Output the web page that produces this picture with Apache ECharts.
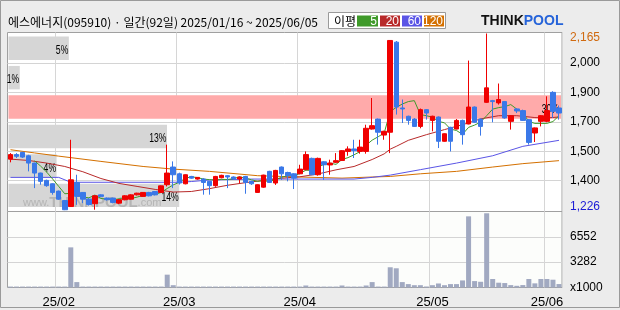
<!DOCTYPE html>
<html><head><meta charset="utf-8">
<script src="https://cdn.jsdelivr.net/npm/echarts@6/dist/echarts.min.js"></script>
<style>html,body{margin:0;padding:0;background:#ececec}#c{width:620px;height:310px}</style>
</head><body><div id="c"></div>
<script>
// ---------- data ----------
const dates = [
 '2025-01-16','2025-01-17','2025-01-20','2025-01-21','2025-01-22','2025-01-23','2025-01-24','2025-01-31',
 '2025-02-03','2025-02-04','2025-02-05','2025-02-06','2025-02-07','2025-02-10','2025-02-11','2025-02-12','2025-02-13','2025-02-14',
 '2025-02-17','2025-02-18','2025-02-19','2025-02-20','2025-02-21','2025-02-24','2025-02-25','2025-02-26','2025-02-27','2025-02-28',
 '2025-03-04','2025-03-05','2025-03-06','2025-03-07','2025-03-10','2025-03-11','2025-03-12','2025-03-13','2025-03-14',
 '2025-03-17','2025-03-18','2025-03-19','2025-03-20','2025-03-21','2025-03-24','2025-03-25','2025-03-26','2025-03-27','2025-03-28','2025-03-31',
 '2025-04-01','2025-04-02','2025-04-03','2025-04-04','2025-04-07','2025-04-08','2025-04-09','2025-04-10','2025-04-11',
 '2025-04-14','2025-04-15','2025-04-16','2025-04-17','2025-04-18','2025-04-21','2025-04-22','2025-04-23','2025-04-24','2025-04-25',
 '2025-04-28','2025-04-29','2025-04-30',
 '2025-05-02','2025-05-07','2025-05-08','2025-05-09','2025-05-12','2025-05-13','2025-05-14','2025-05-15','2025-05-16',
 '2025-05-19','2025-05-20','2025-05-21','2025-05-22','2025-05-23','2025-05-26','2025-05-27','2025-05-28','2025-05-29','2025-05-30',
 '2025-06-02','2025-06-04','2025-06-05'
];
const opens  = [1497,1521,1533,1515,1476,1423,1384,1366,1327,1277,1245,1373,1320,1284,1260,1307,1290,1290,1263,1281,1284,1307,1299,1320,1325,1320,1361,1455,1419,1366,1405,1391,1391,1379,1356,1398,1409,1402,1391,1405,1379,1320,1348,1432,1370,1455,1426,1419,1419,1441,1501,1414,1483,1466,1480,1490,1538,1551,1538,1538,1657,1710,1625,1640,2119,1769,1725,1710,1671,1760,1703,1721,1592,1666,1657,1703,1684,1774,1710,1799,1808,1796,1803,1698,1764,1755,1707,1636,1698,1698,1852,1769];
const closes = [1521,1512,1508,1476,1423,1379,1356,1320,1284,1228,1387,1299,1284,1256,1302,1299,1281,1267,1281,1302,1307,1316,1320,1302,1307,1355,1423,1414,1370,1414,1396,1400,1373,1356,1405,1411,1402,1393,1402,1373,1366,1361,1412,1373,1437,1419,1409,1396,1444,1521,1414,1501,1467,1476,1489,1542,1551,1542,1561,1661,1675,1640,1645,2128,1774,1764,1703,1671,1760,1742,1725,1592,1632,1592,1703,1627,1774,1693,1671,1876,1803,1814,1716,1728,1753,1703,1586,1663,1728,1755,1751,1742];
const lows   = [1480,1503,1503,1432,1343,1361,1350,1308,1280,1226,1243,1254,1263,1250,1228,1296,1277,1262,1258,1278,1282,1304,1296,1299,1304,1318,1352,1343,1362,1363,1393,1388,1308,1308,1350,1395,1343,1388,1370,1313,1360,1318,1345,1370,1360,1387,1379,1338,1416,1438,1412,1409,1387,1414,1476,1487,1515,1503,1526,1526,1654,1574,1600,1529,1734,1689,1680,1668,1661,1707,1645,1556,1590,1538,1655,1574,1682,1690,1622,1796,1693,1787,1712,1654,1742,1700,1574,1588,1671,1693,1716,1707];
const highs  = [1529,1529,1536,1520,1478,1425,1388,1368,1330,1280,1600,1414,1322,1290,1305,1310,1293,1292,1284,1305,1310,1318,1322,1323,1327,1357,1574,1485,1425,1416,1408,1402,1396,1381,1408,1414,1412,1405,1405,1408,1382,1363,1414,1435,1440,1458,1430,1422,1467,1538,1505,1505,1486,1494,1529,1545,1565,1600,1600,1680,1822,1713,1648,2130,2125,1814,1728,1715,1766,1763,1728,1724,1634,1669,1710,1707,2021,1777,1713,2165,1812,1899,1806,1731,1767,1760,1710,1665,1731,1831,1858,1782];
const volumes = [120,120,120,120,120,120,120,120,120,120,5190,700,120,120,120,120,120,120,120,120,120,120,120,120,120,120,1660,300,120,120,120,120,120,120,120,120,120,120,120,120,120,120,120,120,120,120,120,120,120,260,120,120,120,120,120,260,120,120,120,260,700,120,120,2616,2485,700,440,300,300,130,300,520,300,440,440,915,9200,830,740,9600,1100,620,575,310,220,314,1100,536,1100,1100,1007,445];

// moving averages
const ma5Start = 4;
const ma5 = [1488,1460,1428,1391,1352,1313,1315,1304,1296,1291,1306,1288,1284,1281,1286,1286,1288,1295,1305,1309,1310,1320,1341,1360,1374,1395,1403,1399,1391,1388,1386,1389,1389,1393,1403,1396,1387,1379,1383,1377,1390,1400,1410,1407,1421,1438,1437,1455,1469,1476,1469,1495,1505,1520,1537,1571,1598,1616,1636,1750,1772,1790,1803,1808,1734,1728,1720,1698,1690,1657,1649,1629,1666,1678,1694,1728,1763,1771,1776,1787,1763,1743,1697,1687,1687,1687,1697,1728];
const ma20Idx = [0,3,6,9,12,15,18,21,24,27,30,33,36,39,42,45,48,51,54,57,60,62,63,64,66,69,72,75,78,81,84,87,89,91];
const ma20Val = [1497,1490,1476,1458,1430,1394,1368,1352,1336,1322,1325,1340,1358,1372,1384,1396,1403,1418,1440,1458,1495,1525,1550,1565,1597,1627,1654,1680,1711,1728,1728,1718,1716,1721];
const ma60Idx = [0,8,10,28,30,33,40,57,60,63,68,74,80,85,91];
const ma60Val = [1400,1400,1374,1374,1378,1386,1391,1391,1400,1412,1441,1476,1515,1565,1597];
const ma120Idx = [0,4,8,15,22,27,33,41,48,55,60,63,68,74,80,85,91];
const ma120Val = [1547,1530,1513,1485,1458,1444,1432,1409,1402,1396,1402,1405,1419,1432,1455,1473,1489];
const maPeriods = ['5','20','60','120'];
const maColors = ['#3f9a2a','#b82a2a','#5a55e6','#d47000'];

// price-volume profile bands
const bandHigh = [2165,2008.5,1852,1695.5,1539,1382.5];
const bandLow  = [2008.5,1852,1695.5,1539,1382.5,1226];
const bandPct  = [5,1,30,13,4,14];
const currentBand = 2;

// axis tick labels
const priceTickVals = [2165,2008.5,1852,1695.5,1539,1382.5,1226];
const priceTickText = ['2,165','2,000','1,900','1,700','1,500','1,400','1,226'];
const volTickVals = [0,3282,6552];
const volTickText = ['x1000','3282','6552'];

// ---------- chart ----------
const monthStart = dates.map((d,i)=> i>0 && d.slice(5,7)!==dates[i-1].slice(5,7) ? i : -1).filter(i=>i>=0);
const FONT = '"Liberation Sans", Arial, sans-serif';
const KFONT = '"Noto Sans CJK KR", sans-serif';
const chart = echarts.init(document.getElementById('c'), null, {renderer:'canvas'});

function nearest(arr, v){ let k=0; for(let i=1;i<arr.length;i++) if(Math.abs(arr[i]-v)<Math.abs(arr[k]-v)) k=i; return k; }

const candleData = dates.map((d,i)=>[opens[i],closes[i],lows[i],highs[i]]);
const bandData = bandPct.map((p,i)=>[p,bandHigh[i],bandLow[i],i===currentBand?1:0]);
const pairs = (idx,val)=>idx.map((x,i)=>[x,val[i]]);

const catAxisBase = {
  type:'category', data:dates, boundaryGap:true,
  axisLine:{show:false}, axisTick:{show:false},
  splitLine:{show:true, interval:(i)=>monthStart.includes(i), lineStyle:{color:'#d6d6d6', width:1}}
};

chart.setOption({
  animation:false,
  backgroundColor:'#ececec',
  grid:[
    {left:7.5, right:58, top:32.5, height:179, show:true, backgroundColor:'#ffffff', borderColor:'#a0a0a0', borderWidth:1},
    {left:7.5, right:58, top:211.5, height:76, show:true, backgroundColor:'#fcfdfb', borderColor:'#a0a0a0', borderWidth:1}
  ],
  xAxis:[
    Object.assign({}, catAxisBase, {gridIndex:0, axisLabel:{show:false}}),
    Object.assign({}, catAxisBase, {gridIndex:1,
      axisLabel:{show:true, interval:(i)=>monthStart.includes(i), margin:8,
        formatter:(v)=>v.slice(2,4)+'/'+v.slice(5,7), color:'#000', fontSize:13, fontFamily:FONT}}),
    {type:'value', gridIndex:0, min:0, max:45.2, show:false}
  ],
  yAxis:[
    {type:'value', gridIndex:0, position:'right', min:1218.6, max:2170.3, scale:true,
      axisLine:{show:false},
      axisTick:{show:false, customValues:priceTickVals.slice(1,-1)},
      splitLine:{show:true, lineStyle:{color:'#d4d4d4'}},
      axisLabel:{customValues:priceTickVals, margin:8, color:'#000', fontSize:12, fontFamily:FONT,
        formatter:(v)=>{const k=nearest(priceTickVals,v); const t=priceTickText[k];
          if(k===0) return '{hi|'+t+'}'; if(k===priceTickVals.length-1) return '{lo|'+t+'}'; return t;},
        rich:{hi:{color:'#d06a10', fontSize:12, fontFamily:FONT, padding:[8,0,0,0]},
              lo:{color:'#1a1ad6', fontSize:12, fontFamily:FONT, padding:[0,0,7,0]}}}
    },
    {type:'value', gridIndex:1, position:'right', min:0, max:9828,
      axisLine:{show:false},
      axisTick:{show:false, customValues:volTickVals.slice(1)},
      splitLine:{show:true, lineStyle:{color:'#d4d4d4'}},
      axisLabel:{customValues:volTickVals, margin:8, color:'#000', fontSize:12, fontFamily:FONT,
        formatter:(v)=>volTickText[nearest(volTickVals,v)]}
    }
  ],
  series:[
    {type:'custom', xAxisIndex:2, yAxisIndex:0, z:1, silent:true, data:bandData,
      renderItem:function(params, api){
        const pct=api.value(0), hi=api.value(1), lo=api.value(2), cur=api.value(3);
        const cs=params.coordSys;
        const p1=api.coord([0,hi]), p2=api.coord([pct,lo]);
        const y1=p1[1]+3, y2=p2[1]-3, x1=cs.x+1;
        const x2= cur ? cs.x+cs.width-1 : p2[0];
        return {type:'group', children:[
          {type:'rect', shape:{x:x1,y:y1,width:x2-x1,height:y2-y1}, style:{fill: cur?'#ffaaaa':'#d6d6d6'}},
          {type:'text', x: cur? cs.x+cs.width-3 : x2-0.5, y:(y1+y2)/2+2.5, scaleX:0.72,
            style:{text:pct+'%', x:0, y:0, align:'right', verticalAlign:'middle', fill:'#000', font:'12px '+FONT}}
        ]};
      }
    },
    {type:'line', xAxisIndex:0, yAxisIndex:0, z:3, data:pairs(ma120Idx,ma120Val), showSymbol:false, symbol:'none', lineStyle:{color:maColors[3], width:1}},
    {type:'line', xAxisIndex:0, yAxisIndex:0, z:3, data:pairs(ma60Idx,ma60Val), showSymbol:false, symbol:'none', lineStyle:{color:maColors[2], width:1}},
    {type:'line', xAxisIndex:0, yAxisIndex:0, z:3, data:pairs(ma20Idx,ma20Val), showSymbol:false, symbol:'none', lineStyle:{color:maColors[1], width:1}},
    {type:'line', xAxisIndex:0, yAxisIndex:0, z:3, data:ma5.map((v,i)=>[i+ma5Start,v]), showSymbol:false, symbol:'none', lineStyle:{color:maColors[0], width:1}},
    {type:'candlestick', xAxisIndex:0, yAxisIndex:0, z:4, barWidth:5, data:candleData,
      itemStyle:{color:'#f00000', color0:'#3a78e8', borderColor:'#f00000', borderColor0:'#3a78e8', borderWidth:1}},
    {type:'bar', xAxisIndex:1, yAxisIndex:1, barWidth:5, data:volumes, itemStyle:{color:'#a1a9c1'}}
  ],
  graphic:[
    {type:'rect', z:100, silent:true, shape:{x:0.5,y:0.5,width:619,height:307}, style:{fill:'none', stroke:'#9a9a9a', lineWidth:1}},
    {type:'text', z:100, style:{text:'에스에너지(095910) · 일간(92일) 2025/01/16 ~ 2025/06/05', x:8, y:22, verticalAlign:'middle', fill:'#000', font:'12px '+KFONT}},
    {type:'rect', z:100, shape:{x:328.5,y:12.5,width:117,height:16}, style:{fill:'#ffffff', stroke:'#9a9a9a', lineWidth:1}},
    {type:'text', z:101, style:{text:'이평', x:334, y:21, verticalAlign:'middle', fill:'#000', font:'12px '+KFONT}},
    ...maPeriods.map((p,i)=>{const xs=[357,380,402,424], ws=[21,20,20,20];
      return {type:'group', z:101, children:[
        {type:'rect', z:101, shape:{x:xs[i],y:15.5,width:ws[i],height:11}, style:{fill:maColors[i]}},
        {type:'text', z:102, style:{text:p, x:xs[i]+ws[i]-1, y:21.5, align:'right', verticalAlign:'middle', fill:'#fff', font:'12px '+FONT}}
      ]};}),
    {type:'text', z:100, style:{text:'{k|THINK}{p|POOL}', x:481, y:21, verticalAlign:'middle',
      rich:{k:{fill:'#111', font:'bold 14px '+FONT}, p:{fill:'#2563d9', font:'bold 14px '+FONT}}}},
    {type:'text', z:1.5, silent:true, style:{text:'{a|www.}{b|THINKPOOL}{a|.com}', x:23, y:203, verticalAlign:'middle',
      rich:{a:{fill:'rgba(140,140,140,0.45)', font:'11px '+FONT}, b:{fill:'rgba(140,140,140,0.45)', font:'bold 15px '+FONT}}}}
  ]
});
</script></body></html>
